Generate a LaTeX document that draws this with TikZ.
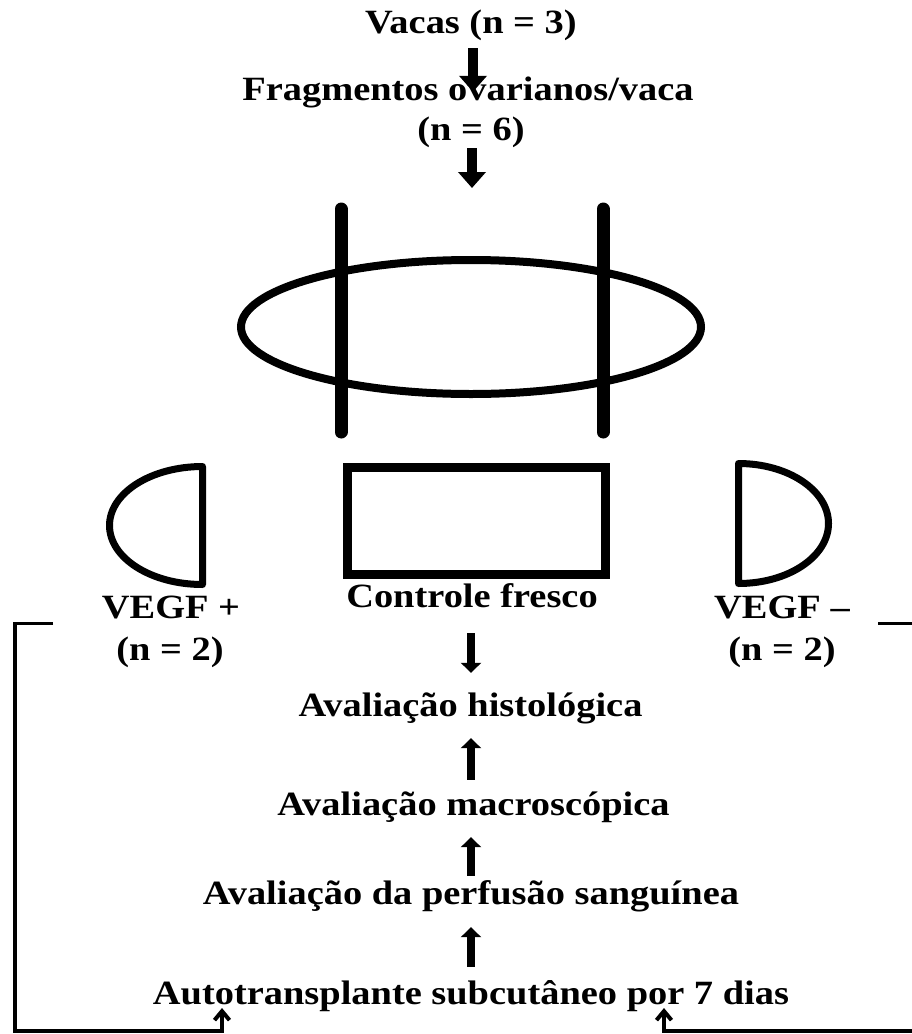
\documentclass[tikz,border=0pt]{standalone}
\usepackage{fontspec}
\setmainfont{Liberation Serif}[FakeStretch=1.13]
\usetikzlibrary{arrows.meta,calc,shapes.geometric}
\begin{document}
\begin{tikzpicture}[x=1pt,y=-1pt,
  lbl/.style={font=\bfseries\fontsize{34}{40}\selectfont, inner sep=0pt, text height=23pt, text depth=8pt, anchor=base},
  bigarr/.style={line width=10pt, -{Triangle[width=27pt,length=16pt]}},
  midarr/.style={line width=8pt, -{Triangle[width=20pt,length=10pt]}},
  bar/.style={line width=13pt, line cap=round},
  halfdisc/.style={line width=7pt, line join=round},
  bracket/.style={line width=3.5pt, -{Straight Barb[length=9pt,width=15pt,line width=4pt]}}
]
\useasboundingbox (0,0) rectangle (911,1034);
\fill[white] (0,0) rectangle (911,1034);

% texts
\node[lbl] (vacas) at (471,33) {Vacas (n = 3)};
\node[lbl] (frag) at (468,100) {Fragmentos ovarianos/vaca};
\node[lbl] (n6) at (471,140) {(n = 6)};
\node[lbl] (vegfp) at (171,618) {VEGF +};
\node[lbl] (n2l) at (170,660) {(n = 2)};
\node[lbl] (ctrl) at (472,607) {Controle fresco};
\node[lbl] (vegfm) at (782,618) {VEGF –};
\node[lbl] (n2r) at (782,660) {(n = 2)};
\node[lbl] (hist) at (470.5,716) {Avaliação histológica};
\node[lbl] (macro) at (473.5,815) {Avaliação macroscópica};
\node[lbl] (perf) at (471,904) {Avaliação da perfusão sanguínea};
\node[lbl] (auto) at (471,1004) {Autotransplante subcutâneo por 7 dias};

% ovary and cuts
\node[draw, ellipse, line width=8pt, minimum width=460pt, minimum height=134pt, inner sep=0pt] (ovary) at (471,327) {};
\draw[bar] (341,209) -- (341,432);
\draw[bar] (603,209) -- (603,432);

% fragments
\node[draw, line width=9pt, minimum width=258pt, minimum height=107pt, inner sep=0pt] (frescobox) at (476.5,521) {};
\draw[halfdisc] (202.5,466.5) arc[start angle=90,end angle=270,x radius=93pt,y radius=59pt] -- cycle;
\draw[halfdisc] (738.5,463.5) arc[start angle=90,end angle=-90,x radius=90pt,y radius=60pt] -- cycle;

% arrows
\coordinate (ovtop) at (472,188);
\draw[bigarr] ($(vacas.south)+(2,7)$) -- ($(vacas.south |- frag.north)+(2,15)$);
\draw[bigarr] ($(n6.south)+(1,0)$) -- (ovtop);
\draw[midarr] ($(ctrl.south)+(-1,18)$) -- ($(ctrl.south |- hist.north)+(-1,-20)$);
\draw[midarr] ($(macro.north)+(-2.5,-12)$) -- ($(macro.north |- hist.south)+(-2.5,14)$);
\draw[midarr] ($(perf.north)+(0,-5)$) -- ($(perf.north |- macro.south)+(0,14)$);
\draw[midarr] ($(auto.north)+(0,-14)$) -- ($(auto.north |- perf.south)+(0,15)$);

% brackets
\coordinate (lb) at (53,623.5);
\coordinate (rb) at (878,623.5);
\draw[bracket] (lb) -| ($(auto.base)+(-456,27)$) -| ($(auto.base)+(-249,4)$);
\draw[bracket] (rb) -| ($(auto.base)+(445,27)$) -| ($(auto.base)+(193,4)$);
\end{tikzpicture}
\end{document}
